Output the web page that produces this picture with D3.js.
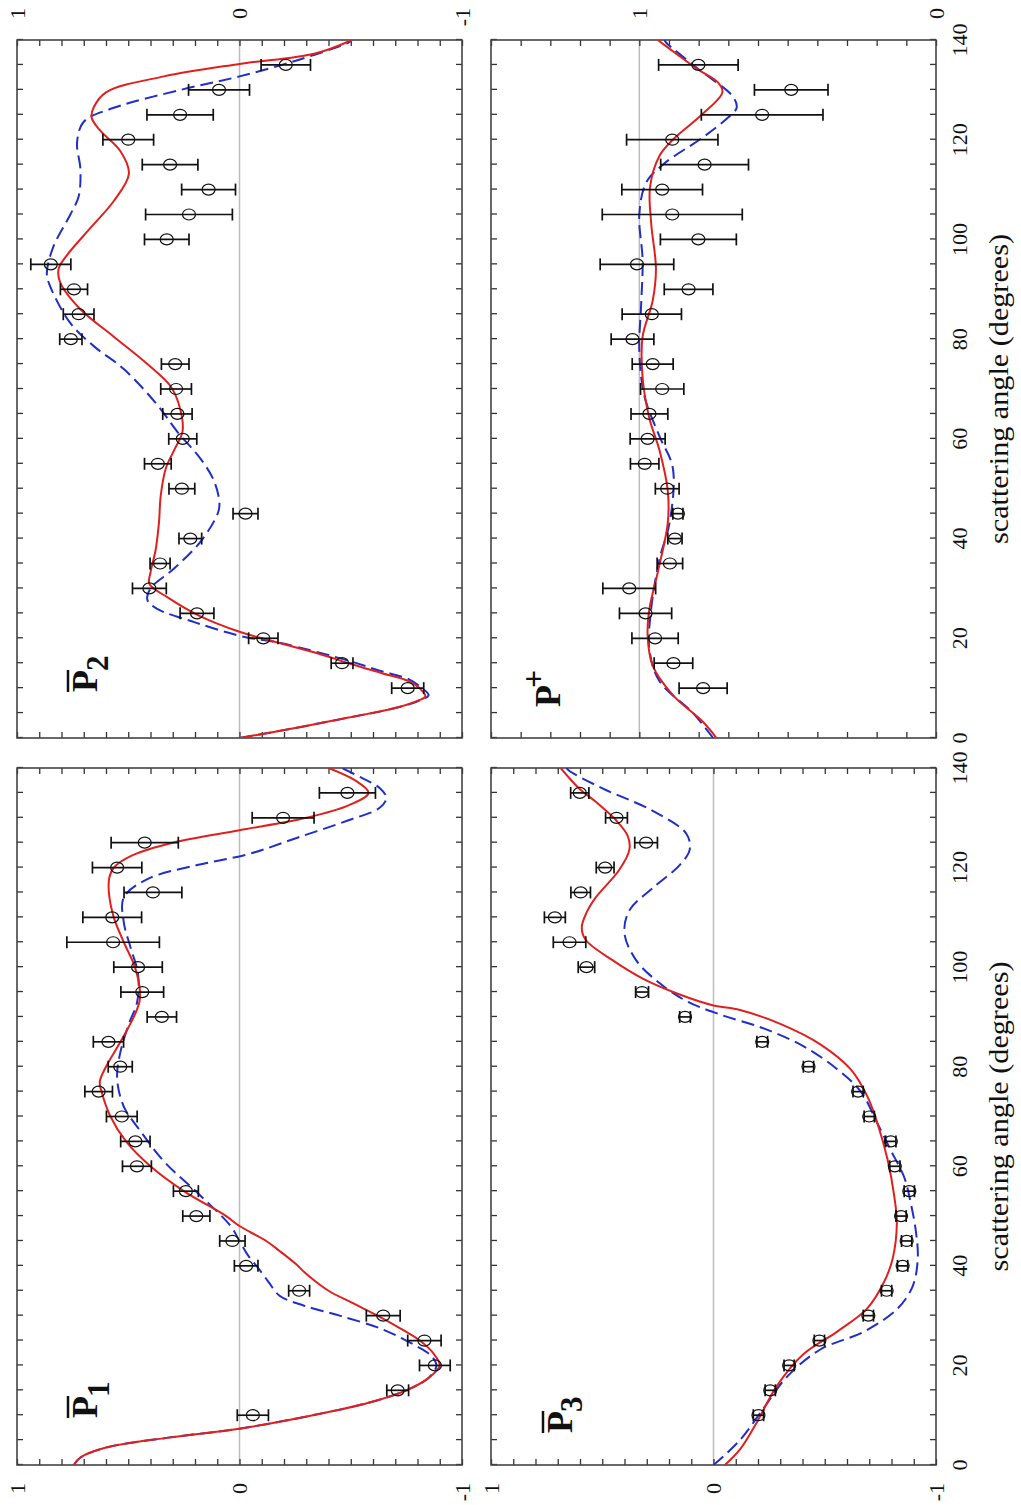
<!DOCTYPE html>
<html>
<head>
<meta charset="utf-8">
<script src="https://cdn.jsdelivr.net/npm/d3@7"></script>
<style>
  body { margin: 0; background: #fff; }
  svg { display: block; }
  text { font-family: "Liberation Serif", "Times New Roman", serif; fill: #111; }
</style>
</head>
<body>
<svg id="chart" width="1021" height="1505"></svg>
<script>
// measured angles (degrees)
const angles = [10, 15, 20, 25, 30, 35, 40, 45, 50, 55, 60, 65, 70, 75, 80, 85, 90, 95, 100, 105, 110, 115, 120, 125, 130, 135];

// P1 bar
const p1Obs = [-0.060, -0.711, -0.878, -0.831, -0.646, -0.268, -0.030, 0.032, 0.194, 0.241, 0.461, 0.468, 0.529, 0.633, 0.536, 0.589, 0.349, 0.437, 0.456, 0.568, 0.572, 0.389, 0.550, 0.426, -0.196, -0.485];
const p1Err = [0.070, 0.049, 0.069, 0.075, 0.076, 0.047, 0.053, 0.057, 0.061, 0.056, 0.065, 0.066, 0.069, 0.062, 0.054, 0.068, 0.066, 0.096, 0.109, 0.208, 0.132, 0.130, 0.111, 0.151, 0.139, 0.126];
const p1Red = [[0,0.745],[1.5,0.715],[3.5,0.60],[5.5,0.32],[7.3,0.0],[10,-0.33],[12.5,-0.58],[15,-0.75],[17.5,-0.85],[20,-0.90],[22.5,-0.87],[25,-0.81],[27.5,-0.72],[30,-0.62],[32.5,-0.51],[35,-0.40],[38,-0.31],[40.5,-0.25],[43,-0.18],[45,-0.12],[48,0.0],[50,0.06],[55,0.25],[60,0.40],[65,0.51],[70,0.58],[75,0.62],[77,0.628],[80,0.60],[85,0.535],[90,0.475],[93,0.45],[95,0.447],[100,0.47],[105,0.52],[110,0.565],[115,0.587],[118,0.585],[120,0.565],[122.5,0.48],[125,0.30],[127.5,0.0],[130,-0.30],[132.5,-0.49],[135,-0.58],[137.5,-0.52],[140,-0.40]];
const p1Blue = [[0,0.745],[1.5,0.715],[3.5,0.60],[5.5,0.32],[7.3,0.0],[10,-0.33],[12.5,-0.58],[15,-0.75],[17.5,-0.85],[20,-0.885],[22,-0.86],[24,-0.79],[27.3,-0.64],[30,-0.45],[32,-0.29],[34,-0.18],[36.8,-0.13],[39.5,-0.085],[42,-0.04],[45,0.0],[48,0.04],[54,0.173],[61,0.34],[67,0.444],[72,0.52],[77.7,0.55],[83,0.535],[88.6,0.497],[93,0.46],[98.6,0.456],[104,0.49],[109,0.52],[114,0.52],[117.7,0.414],[120.5,0.19],[122.7,-0.04],[126,-0.26],[129.5,-0.49],[132,-0.63],[134,-0.66],[136,-0.63],[138,-0.55],[140,-0.46]];

// P2 bar
const p2Obs = [-0.756, -0.461, -0.107, 0.191, 0.405, 0.357, 0.221, -0.027, 0.259, 0.367, 0.255, 0.279, 0.285, 0.289, 0.758, 0.723, 0.744, 0.848, 0.327, 0.227, 0.139, 0.312, 0.500, 0.267, 0.092, -0.208];
const p2Err = [0.072, 0.049, 0.066, 0.076, 0.076, 0.045, 0.051, 0.056, 0.058, 0.060, 0.063, 0.066, 0.069, 0.062, 0.050, 0.069, 0.061, 0.090, 0.100, 0.195, 0.121, 0.125, 0.114, 0.149, 0.137, 0.111];
const p2Red = [[0,0.0],[2,-0.25],[4.1,-0.49],[6,-0.70],[7.3,-0.79],[8.3,-0.835],[9.5,-0.82],[11.4,-0.76],[13,-0.64],[15,-0.49],[17,-0.35],[20,-0.10],[21.3,0.0],[24.5,0.18],[28.2,0.323],[30.9,0.405],[33.2,0.40],[37.7,0.377],[43.2,0.362],[48.6,0.354],[54.1,0.331],[57.7,0.294],[61.5,0.256],[65.9,0.266],[70.5,0.309],[75,0.414],[80.5,0.565],[86,0.715],[91.4,0.806],[94.1,0.813],[96.8,0.776],[102.3,0.67],[107.7,0.565],[113.2,0.497],[117.7,0.535],[122,0.63],[124.5,0.665],[126.5,0.655],[129.5,0.60],[132.7,0.34],[135.2,0.0],[137.3,-0.34],[140,-0.505]];
const p2Blue = [[0,0.0],[2,-0.25],[4.1,-0.49],[6,-0.70],[7.5,-0.81],[8.6,-0.85],[10,-0.82],[11.8,-0.76],[13.5,-0.63],[15.5,-0.49],[19,-0.19],[20.5,0.0],[23.2,0.2],[25.9,0.37],[27.7,0.414],[30,0.40],[34,0.294],[39.5,0.173],[45,0.098],[47,0.09],[51.4,0.113],[55.9,0.173],[61.4,0.279],[66.8,0.369],[74,0.52],[78.6,0.655],[83.2,0.76],[90.5,0.85],[93.2,0.866],[98.6,0.836],[105,0.76],[108.6,0.723],[114,0.715],[119.5,0.73],[123.6,0.70],[126.4,0.565],[130,0.264],[132.7,0.0],[136,-0.264],[139.5,-0.49],[140,-0.505]];

// P3 bar
const p3Obs = [-0.202, -0.255, -0.340, -0.476, -0.696, -0.778, -0.850, -0.868, -0.843, -0.880, -0.815, -0.797, -0.700, -0.650, -0.427, -0.219, 0.128, 0.321, 0.571, 0.647, 0.713, 0.597, 0.487, 0.303, 0.436, 0.601];
const p3Err = [0.023, 0.023, 0.023, 0.023, 0.023, 0.023, 0.023, 0.023, 0.023, 0.023, 0.023, 0.023, 0.023, 0.023, 0.023, 0.024, 0.024, 0.029, 0.037, 0.073, 0.047, 0.044, 0.040, 0.051, 0.049, 0.041];
const p3Red = [[0,-0.051],[3.2,-0.12],[8.6,-0.195],[15.9,-0.285],[22.3,-0.405],[26.8,-0.556],[31.4,-0.69],[36.8,-0.767],[41.4,-0.805],[48.6,-0.824],[54.1,-0.812],[61.4,-0.782],[68.6,-0.737],[74,-0.692],[79.5,-0.616],[84.5,-0.48],[88.6,-0.30],[91.4,-0.119],[92.3,0.0],[94.5,0.152],[97.7,0.318],[101.4,0.454],[105.5,0.575],[108,0.592],[111,0.57],[114,0.529],[119.5,0.424],[123.6,0.378],[126.4,0.386],[129.5,0.438],[133.2,0.529],[135.9,0.604],[140,0.687]];
const p3Blue = [[0,0.0],[5,-0.119],[11.4,-0.225],[17.7,-0.33],[23.2,-0.48],[26.8,-0.677],[31.4,-0.827],[35.9,-0.895],[41.4,-0.918],[46.8,-0.91],[52.3,-0.888],[57.7,-0.858],[63.2,-0.797],[68.6,-0.737],[75,-0.662],[79.5,-0.556],[84.1,-0.405],[87.7,-0.225],[90.5,-0.029],[93.2,0.122],[96.8,0.243],[101.4,0.348],[106.8,0.40],[111.4,0.378],[115.9,0.273],[120.5,0.152],[123.6,0.107],[126.8,0.122],[131.4,0.273],[135.9,0.499],[139.5,0.65],[140,0.66]];

// P plus
const ppObs = [0.785, 0.885, 0.947, 0.979, 1.034, 0.897, 0.880, 0.870, 0.906, 0.982, 0.972, 0.966, 0.923, 0.955, 1.023, 0.958, 0.834, 1.008, 0.801, 0.889, 0.923, 0.780, 0.889, 0.586, 0.488, 0.801];
const ppErr = [0.081, 0.065, 0.078, 0.088, 0.089, 0.043, 0.024, 0.017, 0.040, 0.048, 0.059, 0.062, 0.073, 0.069, 0.072, 0.100, 0.082, 0.124, 0.128, 0.236, 0.136, 0.148, 0.154, 0.205, 0.124, 0.134];
const ppRed = [[0,0.74],[3.2,0.785],[8.6,0.887],[14.5,0.955],[20.5,0.972],[25.9,0.966],[33.2,0.938],[43.2,0.904],[49.5,0.904],[57.7,0.932],[64.1,0.966],[72.3,0.989],[80.5,0.989],[87.7,0.955],[94.1,0.944],[103.2,0.96],[110.5,0.964],[116.8,0.932],[120,0.887],[125,0.79],[129.5,0.72],[131.5,0.735],[134,0.80],[137,0.87],[140,0.938]];
const ppBlue = [[0,0.751],[5,0.819],[11.4,0.932],[17.7,0.966],[25.9,0.96],[35.9,0.932],[43.2,0.898],[54.1,0.887],[60.5,0.932],[68.6,0.983],[77.7,1.0],[86.8,0.994],[95.9,0.989],[105,1.0],[111.4,0.977],[115,0.921],[120.5,0.785],[124.5,0.70],[126.4,0.672],[128.6,0.684],[134,0.797],[139.5,0.91],[140,0.915]];

// tick labels
const xTickLabels = [0, 20, 40, 60, 80, 100, 120, 140];
const pLabels = ["1", "0", "-1"];
const ppLabels = ["1", "0"];

// the page is the original figure turned a quarter turn left:
// build it flat (1505 wide, 1021 high) and rotate the group
const W = 1505, H = 1021;
const svg = d3.select("#chart");
const root = svg.append("g").attr("transform", `translate(0,${W}) rotate(-90)`);

const colA = [40, 737], colB = [767, 1465];
const row1 = [17, 462], row2 = [491, 936];

const panels = [
  { id: "P1", obs: p1Obs, err: p1Err, red: p1Red, blue: p1Blue, dom: [-1, 1], ref: 0,
    cols: colA, rows: row1, labels: pLabels, side: "left", xLabels: false, sub: "1", lbl: [47, 80, 92] },
  { id: "P2", obs: p2Obs, err: p2Err, red: p2Red, blue: p2Blue, dom: [-1, 1], ref: 0,
    cols: colB, rows: row1, labels: pLabels, side: "right", xLabels: false, sub: "2", lbl: [46, 80, 91] },
  { id: "P3", obs: p3Obs, err: p3Err, red: p3Red, blue: p3Blue, dom: [-1, 1], ref: 0,
    cols: colA, rows: row2, labels: pLabels, side: "left", xLabels: true, sub: "3", lbl: [32, 81, 91] },
  { id: "Pp", obs: ppObs, err: ppErr, red: ppRed, blue: ppBlue, dom: [0, 1.5], ref: 1,
    cols: colB, rows: row2, labels: ppLabels, side: "right", xLabels: true, sup: "+", lbl: [31, 69, 53] },
];

panels.forEach(p => {
  const x = d3.scaleLinear().domain([0, 140]).range(p.cols);
  const y = d3.scaleLinear().domain(p.dom).range([p.rows[1], p.rows[0]]);
  const g = root.append("g").attr("class", "panel " + p.id);

  const yTicks = d3.range(Math.round(p.dom[0] * 10), Math.round(p.dom[1] * 10) + 1).map(i => i / 10);
  const xTicks = d3.range(0, 141, 5);

  // reference line
  g.append("line")
    .attr("x1", p.cols[0]).attr("x2", p.cols[1])
    .attr("y1", y(p.ref)).attr("y2", y(p.ref))
    .attr("stroke", "#bdbdbd").attr("stroke-width", 1.5);

  // inward ticks on all four sides
  const axes = [
    [d3.axisLeft(y).tickValues(yTicks), `translate(${p.cols[0]},0)`],
    [d3.axisRight(y).tickValues(yTicks), `translate(${p.cols[1]},0)`],
    [d3.axisTop(x).tickValues(xTicks), `translate(0,${p.rows[0]})`],
    [d3.axisBottom(x).tickValues(xTicks), `translate(0,${p.rows[1]})`],
  ];
  axes.forEach(([ax, tr]) => {
    const a = g.append("g").attr("transform", tr)
      .call(ax.tickSizeInner(-6).tickSizeOuter(0).tickFormat(""));
    a.select(".domain").remove();
    a.selectAll(".tick line").attr("stroke", "#333").attr("stroke-width", 1.3);
  });

  // frame
  g.append("rect")
    .attr("x", p.cols[0]).attr("y", p.rows[0])
    .attr("width", p.cols[1] - p.cols[0]).attr("height", p.rows[1] - p.rows[0])
    .attr("fill", "none").attr("stroke", "#444").attr("stroke-width", 1.6);

  // value labels
  const lx = p.side === "left" ? 22 : 1497;
  g.selectAll(".vlab").data(p.labels).join("text")
    .attr("class", "vlab")
    .attr("x", lx).attr("y", d => y(+d))
    .attr("text-anchor", "end").attr("dominant-baseline", "central")
    .attr("font-size", 22).text(d => d);

  if (p.xLabels) {
    g.selectAll(".xlab").data(xTickLabels).join("text")
      .attr("class", "xlab")
      .attr("x", d => x(d)).attr("y", 967)
      .attr("text-anchor", "middle").attr("font-size", 22).text(d => d);
    g.append("text")
      .attr("x", (p.cols[0] + p.cols[1]) / 2).attr("y", 1008)
      .attr("text-anchor", "middle").attr("font-size", 27)
      .attr("textLength", 310).attr("lengthAdjust", "spacingAndGlyphs")
      .text("scattering angle (degrees)");
  }

  // clip curves to the frame
  const clipId = "clip-" + p.id;
  g.append("clipPath").attr("id", clipId).append("rect")
    .attr("x", p.cols[0]).attr("y", p.rows[0])
    .attr("width", p.cols[1] - p.cols[0]).attr("height", p.rows[1] - p.rows[0]);

  const line = d3.line().x(d => x(d[0])).y(d => y(d[1])).curve(d3.curveCatmullRom.alpha(0.5));
  g.append("path").datum(p.blue).attr("d", line)
    .attr("clip-path", `url(#${clipId})`)
    .attr("fill", "none").attr("stroke", "#1f2fc8").attr("stroke-width", 2)
    .attr("stroke-dasharray", "13,6");
  g.append("path").datum(p.red).attr("d", line)
    .attr("clip-path", `url(#${clipId})`)
    .attr("fill", "none").attr("stroke", "#e0201e").attr("stroke-width", 2);

  // error bars and open circles
  const pts = angles.map((a, i) => ({ a, v: p.obs[i], e: p.err[i] }));
  const eb = g.append("g").attr("stroke", "#111").attr("stroke-width", 1.7);
  eb.selectAll(".bar").data(pts).join("line")
    .attr("x1", d => x(d.a)).attr("x2", d => x(d.a))
    .attr("y1", d => y(d.v - d.e)).attr("y2", d => y(d.v + d.e));
  eb.selectAll(".capLo").data(pts).join("line")
    .attr("x1", d => x(d.a) - 6).attr("x2", d => x(d.a) + 6)
    .attr("y1", d => y(d.v - d.e)).attr("y2", d => y(d.v - d.e));
  eb.selectAll(".capHi").data(pts).join("line")
    .attr("x1", d => x(d.a) - 6).attr("x2", d => x(d.a) + 6)
    .attr("y1", d => y(d.v + d.e)).attr("y2", d => y(d.v + d.e));
  g.selectAll(".pt").data(pts).join("ellipse")
    .attr("cx", d => x(d.a)).attr("cy", d => y(d.v))
    .attr("rx", 5.5).attr("ry", 6.5)
    .attr("fill", "none").attr("stroke", "#111").attr("stroke-width", 1.2);

  // panel name: bold P with overbar and sub/superscript
  const bx = p.cols[0] + p.lbl[0], by = p.rows[0] + p.lbl[1];
  const pt = g.append("text").attr("x", bx).attr("y", by)
    .attr("font-size", 36).attr("font-weight", "bold").text("P");
  const pw = pt.node().getComputedTextLength();
  if (p.sub) {
    g.append("line").attr("x1", bx).attr("x2", bx + pw)
      .attr("y1", by - 29).attr("y2", by - 29)
      .attr("stroke", "#111").attr("stroke-width", 2.5);
    g.append("text").attr("x", bx + pw - 1).attr("y", p.rows[0] + p.lbl[2])
      .attr("font-size", 31).attr("font-weight", "bold").text(p.sub);
  } else {
    g.append("text").attr("x", bx + pw - 3).attr("y", p.rows[0] + p.lbl[2])
      .attr("font-size", 32).attr("font-weight", "bold").text(p.sup);
  }
});
</script>
</body>
</html>
